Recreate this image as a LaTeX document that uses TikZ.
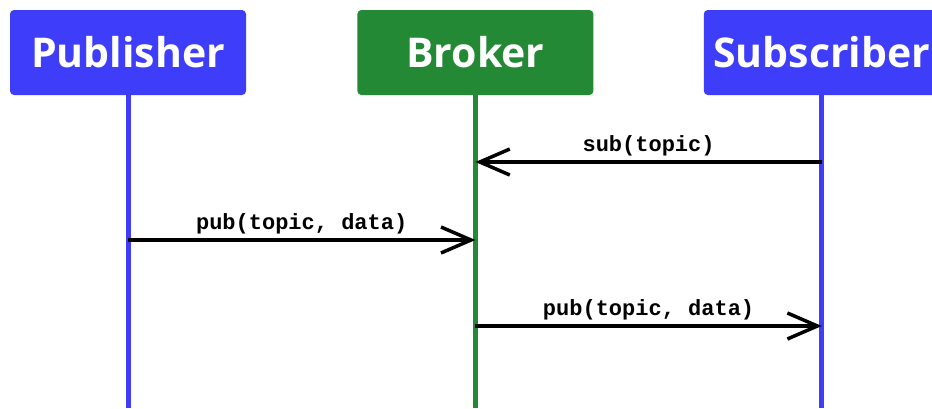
\documentclass[tikz,border=0pt]{standalone}
\usepackage{fontspec}
\newfontfamily\hdfont{Open Sans}
\newfontfamily\msgfont{Liberation Mono}
\usetikzlibrary{arrows.meta,positioning}
\definecolor{actorblue}{RGB}{62,62,250}
\definecolor{brokergreen}{RGB}{36,137,52}
\tikzset{
actor/.style={fill=actorblue,rounded corners=4pt,minimum width=236pt,minimum height=85pt,inner sep=0pt,text=white,font=\hdfont\bfseries\fontsize{41}{48}\selectfont},
hub/.style={actor,fill=brokergreen},
lifeline/.style={line width=5pt,draw=#1},
msg/.style={-{Straight Barb[length=30pt,width=26pt]},line width=3.5pt},
msglabel/.style={font=\msgfont\bfseries\fontsize{22}{26}\selectfont,above=1pt}
}
\begin{document}
\begin{tikzpicture}[x=1pt,y=1pt]
\useasboundingbox (0,0) rectangle (932,-408);
\clip (0,0) rectangle (932,-408);
\node[actor](pub) at (128,-52.5){Publisher};
\node[hub,right=111pt of pub](brk){Broker};
\node[actor,right=110pt of brk](sub){Subscriber};
\coordinate (bot) at (0,-408);
\coordinate (m1) at (0,-162);
\coordinate (m2) at (0,-240);
\coordinate (m3) at (0,-326);
\draw[lifeline=actorblue](pub.south)--(pub.south|-bot);
\draw[lifeline=brokergreen](brk.south)--(brk.south|-bot);
\draw[lifeline=actorblue](sub.south)--(sub.south|-bot);
\draw[msg](sub|-m1)--node[msglabel]{sub(topic)}(brk|-m1);
\draw[msg](pub|-m2)--node[msglabel]{pub(topic, data)}(brk|-m2);
\draw[msg](brk|-m3)--node[msglabel]{pub(topic, data)}(sub|-m3);
\end{tikzpicture}
\end{document}
